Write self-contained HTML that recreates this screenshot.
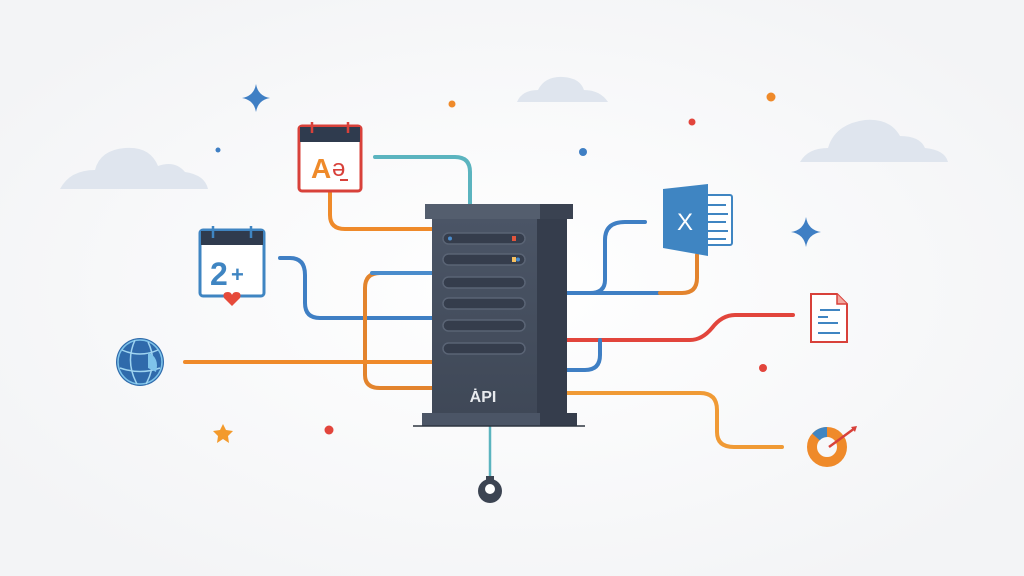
<!DOCTYPE html>
<html><head><meta charset="utf-8"><style>
html,body{margin:0;padding:0;background:#f9fafb;}
svg{display:block;}
</style></head><body>
<svg width="1024" height="576" viewBox="0 0 1024 576" xmlns="http://www.w3.org/2000/svg">
<defs>
<radialGradient id="bg" cx="50%" cy="50%" r="60%"><stop offset="0" stop-color="#ffffff"/><stop offset="1" stop-color="#f3f4f6"/></radialGradient>
<linearGradient id="front" x1="0" y1="0" x2="0" y2="1"><stop offset="0" stop-color="#4b5566"/><stop offset="1" stop-color="#3f4857"/></linearGradient>
</defs>
<rect width="1024" height="576" fill="url(#bg)"/>
<g fill="#dfe5ee">
<path d="M60,189 Q70,170 95,170 Q100,150 125,148 Q150,146 158,166 Q175,160 185,172 Q205,175 208,189 Z"/>
<path d="M517,102 Q522,90 538,90 Q545,76 563,77 Q580,78 584,90 Q600,90 608,102 Z"/>
<path d="M800,162 Q808,148 828,148 Q835,124 865,120 Q890,118 900,136 Q920,136 925,148 Q945,150 948,162 Z"/>
</g>
<g fill="#3f7fc4">
<path d="M256,84 Q258,96 270,98 Q258,100 256,112 Q254,100 242,98 Q254,96 256,84Z"/>
<path d="M806,217 Q808,230 821,232 Q808,234 806,247 Q804,234 791,232 Q804,230 806,217Z"/>
<circle cx="218" cy="150" r="2.5"/><circle cx="583" cy="152" r="4"/>
</g>
<path d="M223,424 L226,430 L233,431 L228,436 L229,443 L223,439 L217,443 L218,436 L213,431 L220,430Z" fill="#f39a2c"/>
<circle cx="452" cy="104" r="3.5" fill="#ef8a2a"/>
<circle cx="771" cy="97" r="4.5" fill="#ef8a2a"/>
<circle cx="692" cy="122" r="3.5" fill="#e2453c"/>
<circle cx="329" cy="430" r="4.5" fill="#e2453c"/>
<circle cx="763" cy="368" r="4" fill="#e2453c"/>
<g fill="none" stroke-width="4" stroke-linecap="round">
<path d="M375,157 H455 Q470,157 470,172 V205" stroke="#5bb4bf"/>
<path d="M330,193 V215 Q330,229 345,229 H432" stroke="#ef8a2a"/>
<path d="M280,258 H290 Q305,258 305,275 V303 Q305,318 320,318 H432" stroke="#3f7fc4"/>
<path d="M432,273 H380 Q365,273 365,288 V375 Q365,388 380,388 H432" stroke="#e3842d"/>
<path d="M372,273 H432" stroke="#4a8ccc"/>
<path d="M185,362 H432" stroke="#ef8a2a"/>
<path d="M645,222 H625 Q605,222 605,240 V280 Q605,293 590,293 H567" stroke="#3f7fc4"/>
<path d="M567,293 H660" stroke="#3f7fc4"/>
<path d="M660,293 H682 Q697,293 697,278 V255" stroke="#e3842d"/>
<path d="M567,340 H690 Q702,340 712,328 Q722,315 735,315 H793" stroke="#e2453c"/>
<path d="M562,370 H585 Q600,370 600,355 V340" stroke="#3f7fc4"/>
<path d="M567,393 H700 Q717,393 717,410 V432 Q717,447 734,447 H782" stroke="#f09a35"/>
<path d="M490,426 V478" stroke="#5bb4bf" stroke-width="2.5"/>
</g>
<circle cx="490" cy="491" r="12" fill="#3c4452"/>
<circle cx="490" cy="489" r="5" fill="#fff"/>
<rect x="486" y="476" width="8" height="8" fill="#3c4452"/>
<rect x="537" y="218" width="30" height="196" fill="#353d4c"/>
<rect x="432" y="218" width="105" height="196" fill="url(#front)"/>
<rect x="425" y="204" width="115" height="15" fill="#545e6e"/>
<rect x="540" y="204" width="33" height="15" fill="#3a4251"/>
<rect x="422" y="413" width="118" height="13" fill="#4b5566"/>
<rect x="540" y="413" width="37" height="13" fill="#353d4c"/>
<line x1="413" y1="426" x2="585" y2="426" stroke="#2d3440" stroke-width="1.5"/>
<g fill="#353d4c" stroke="#5a6475" stroke-width="1.5">
<rect x="443" y="233" width="82" height="11" rx="5.5"/>
<rect x="443" y="254" width="82" height="11" rx="5.5"/>
<rect x="443" y="277" width="82" height="11" rx="5.5"/>
<rect x="443" y="298" width="82" height="11" rx="5.5"/>
<rect x="443" y="320" width="82" height="11" rx="5.5"/>
<rect x="443" y="343" width="82" height="11" rx="5.5"/>
</g>
<circle cx="450" cy="238.5" r="2" fill="#4a8ccc"/>
<rect x="512" y="236" width="4" height="5" fill="#e2553c"/>
<rect x="512" y="257" width="4" height="5" fill="#f5c060"/>
<circle cx="518" cy="259.5" r="2" fill="#4a8ccc"/>
<text x="483" y="402" font-family="Liberation Sans, sans-serif" font-weight="bold" font-size="16" fill="#e8eaee" text-anchor="middle">ȦPI</text>
<rect x="299" y="126" width="62" height="65" rx="3" fill="#fff" stroke="#d8413a" stroke-width="3"/>
<rect x="300" y="127" width="60" height="15" fill="#2f3b4e"/>
<g stroke="#d8413a" stroke-width="2.5" fill="none"><path d="M312,122 V133"/><path d="M348,122 V133"/></g>
<text x="311" y="178" font-family="Liberation Sans, sans-serif" font-size="28" fill="#ef8a2a" font-weight="bold">A</text>
<text x="332" y="176" font-family="Liberation Sans, sans-serif" font-size="24" fill="#d8413a">ə</text>
<rect x="340" y="179" width="8" height="2" fill="#d8413a"/>
<rect x="200" y="230" width="64" height="66" rx="3" fill="#fff" stroke="#3f85c2" stroke-width="3"/>
<rect x="201" y="231" width="62" height="14" fill="#2f3b4e"/>
<g stroke="#3f85c2" stroke-width="2.5"><path d="M213,226 V238"/><path d="M251,226 V238"/></g>
<text x="210" y="285" font-family="Liberation Sans, sans-serif" font-size="32" font-weight="bold" fill="#3f85c2">2</text>
<text x="231" y="282" font-family="Liberation Sans, sans-serif" font-size="22" font-weight="bold" fill="#3f85c2">+</text>
<path d="M232,306 L224,298 Q222,292 228,292 Q231,292 232,295 Q233,292 236,292 Q242,292 240,298Z" fill="#e64a3a"/>
<circle cx="140" cy="362" r="24" fill="#2f6aab"/>
<circle cx="140" cy="362" r="22" fill="none" stroke="#7fc4ea" stroke-width="1.5"/>
<path d="M122,350 Q140,358 158,350 M120,368 Q140,375 160,368 M135,340 Q125,362 137,384 M148,342 Q158,362 146,384" fill="none" stroke="#9fd4f0" stroke-width="1.5"/>
<path d="M148,352 Q160,358 156,372 L148,368Z" fill="#7fc4ea"/>
<rect x="700" y="195" width="32" height="50" rx="2" fill="#fff" stroke="#3f85c2" stroke-width="2"/>
<g stroke="#3f85c2" stroke-width="2"><path d="M708,205 H726 M708,214 H728 M708,222 H726 M708,231 H728 M708,239 H726"/></g>
<path d="M663,189 L708,184 V256 L663,248Z" fill="#3f85c2"/>
<text x="685" y="230" font-family="Liberation Sans, sans-serif" font-size="24" fill="#fff" text-anchor="middle">X</text>
<path d="M811,294 H837 L847,304 V342 H811Z" fill="#fff" stroke="#d8413a" stroke-width="2"/>
<path d="M837,294 V304 H847" fill="#f3a89f" stroke="#d8413a" stroke-width="1.5"/>
<g stroke="#3f85c2" stroke-width="2"><path d="M820,310 H840 M818,317 H828 M818,323 H838 M818,333 H840"/></g>
<circle cx="827" cy="447" r="15" fill="none" stroke="#ef8a2a" stroke-width="10"/>
<path d="M816,437 A15,15 0 0 1 827,432" fill="none" stroke="#3f85c2" stroke-width="10"/>
<path d="M829,447 L855,428" stroke="#d8413a" stroke-width="2.5"/>
<path d="M857,426 L851,427 L855,432Z" fill="#d8413a"/>
</svg>
</body></html>
